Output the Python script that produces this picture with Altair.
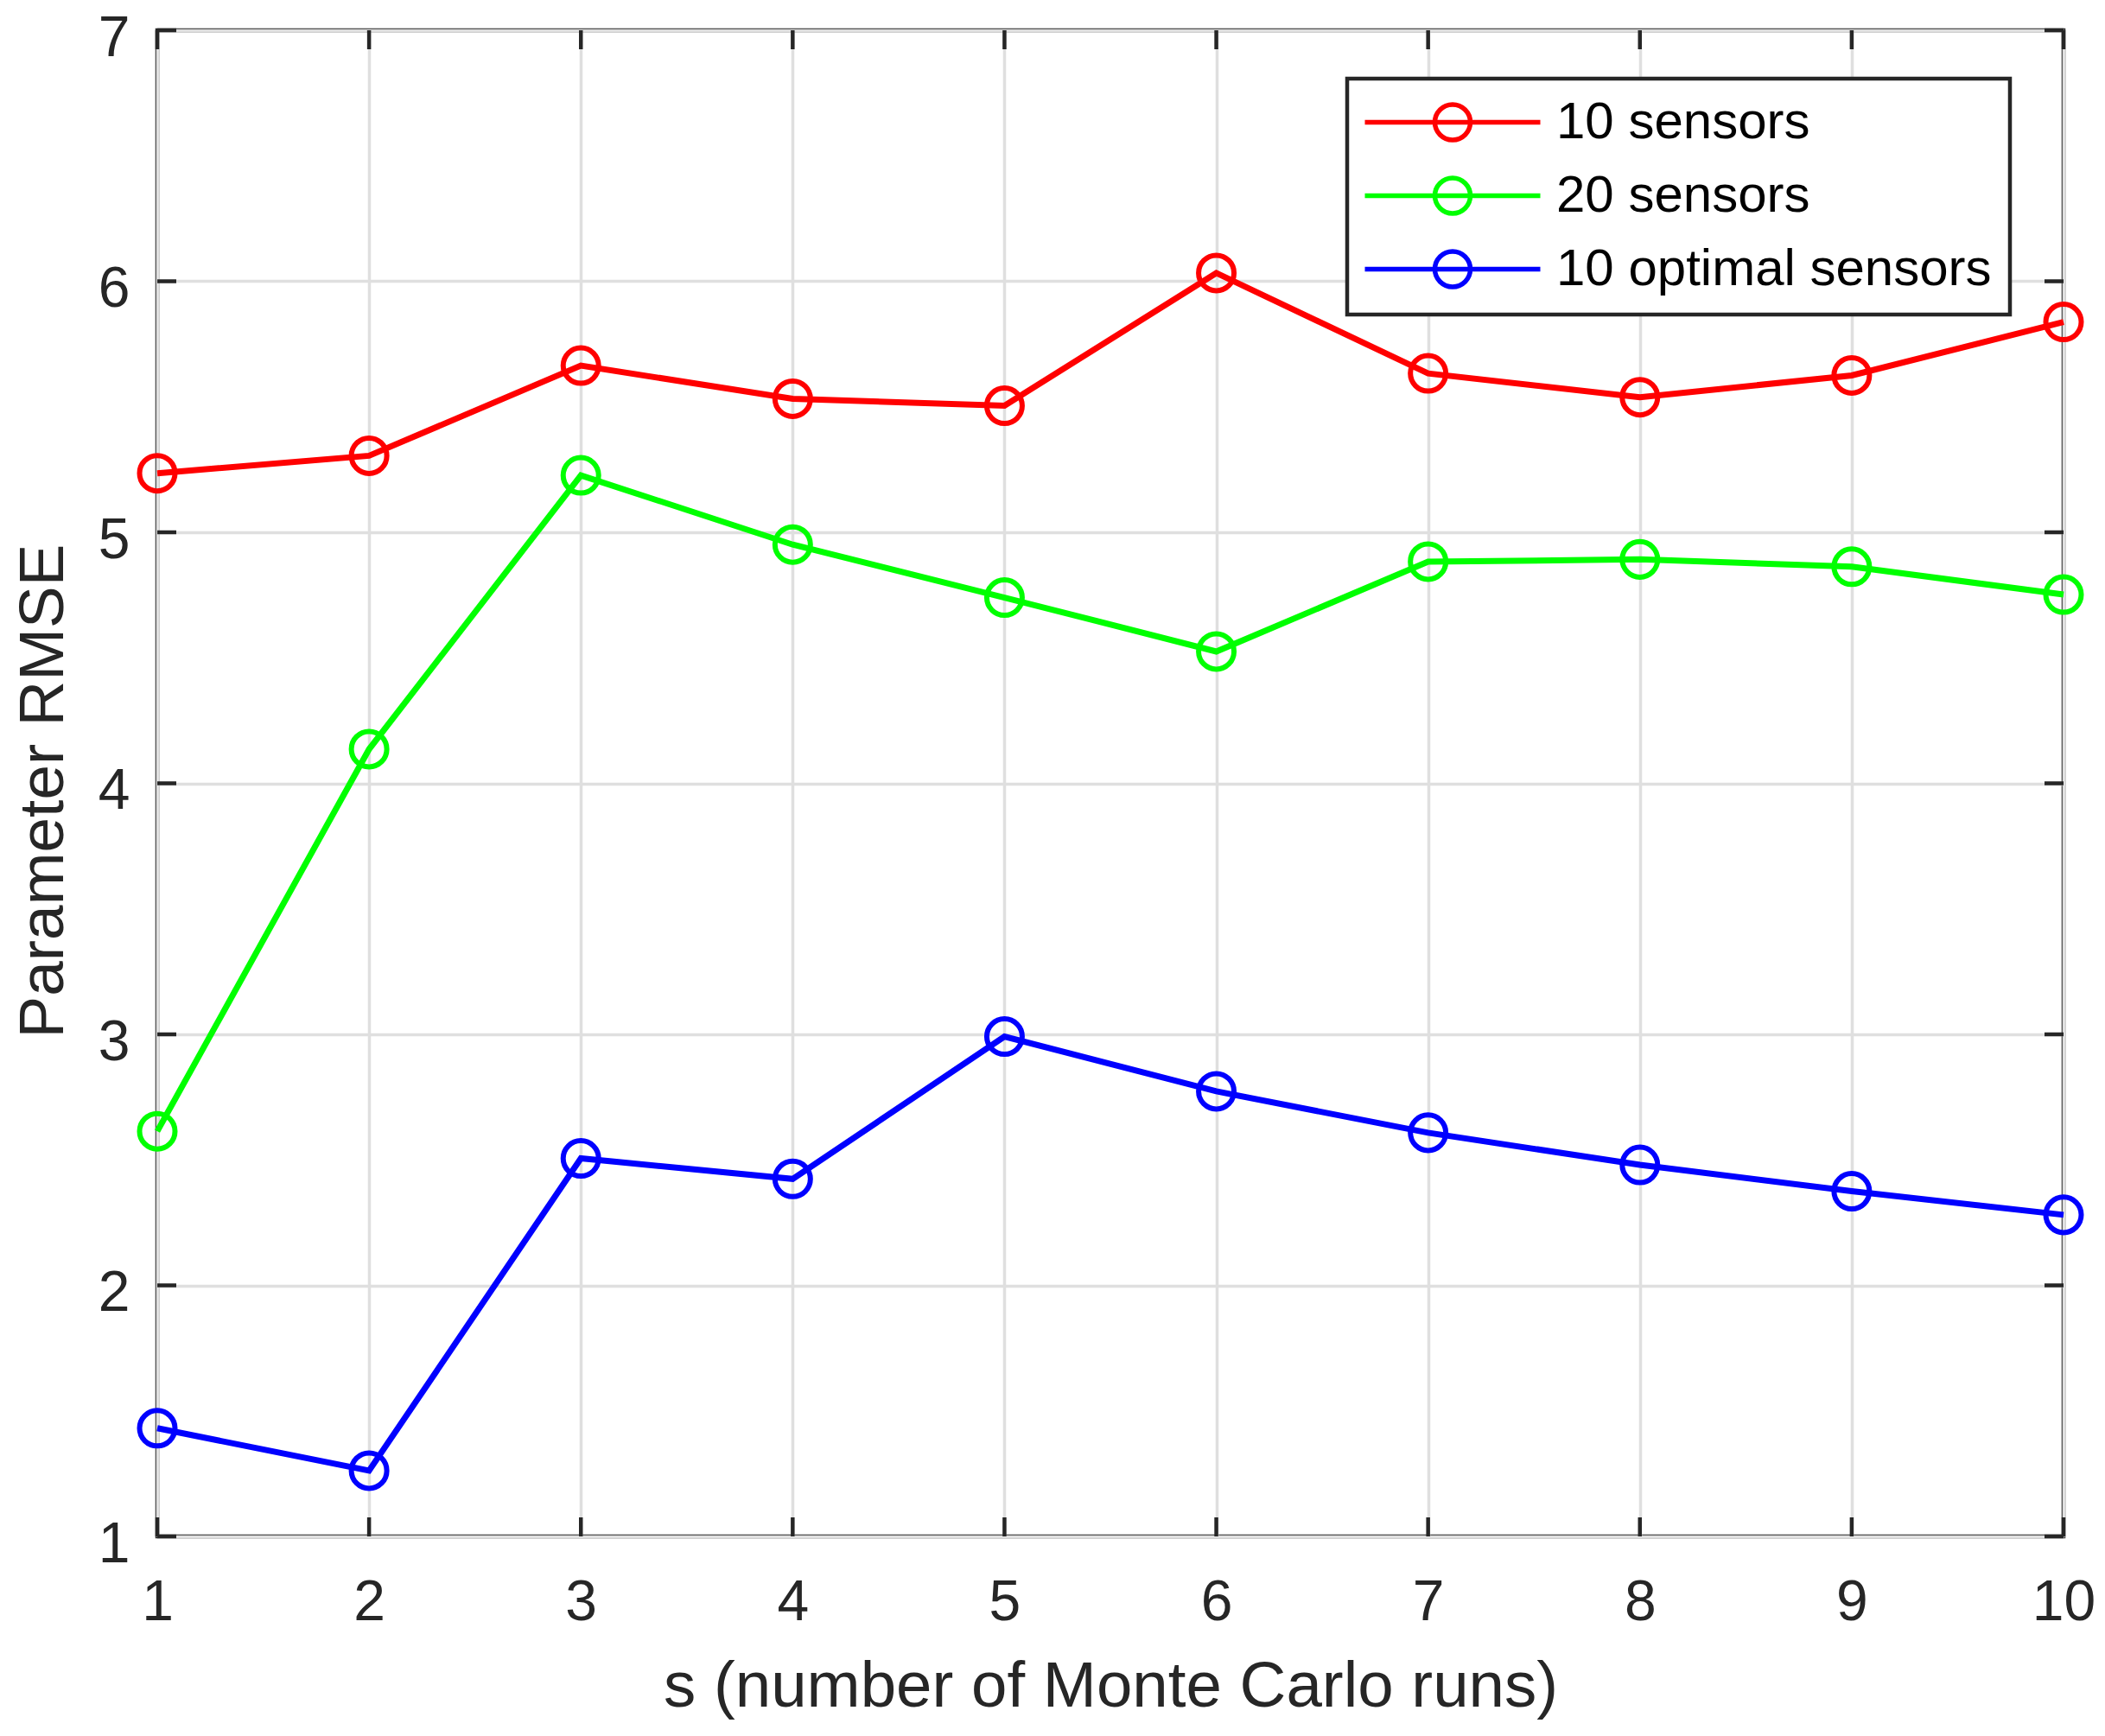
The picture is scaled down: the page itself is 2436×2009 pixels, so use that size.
import altair as alt
import pandas as pd

# ---- data ----
runs = [1, 2, 3, 4, 5, 6, 7, 8, 9, 10]
rmse_10 = [5.235, 5.305, 5.664, 5.532, 5.504, 6.033, 5.633, 5.538, 5.625, 5.838]
rmse_20 = [2.614, 4.136, 5.227, 4.951, 4.740, 4.525, 4.883, 4.892, 4.863, 4.752]
rmse_opt = [1.431, 1.262, 2.506, 2.424, 2.991, 2.773, 2.608, 2.480, 2.375, 2.281]
series_names = ["10 sensors", "20 sensors", "10 optimal sensors"]
series_colors = ["#ff0000", "#00ff00", "#0000ff"]
x_ticks = [1, 2, 3, 4, 5, 6, 7, 8, 9, 10]
y_ticks = [1, 2, 3, 4, 5, 6, 7]

rows = []
for name, vals in zip(series_names, [rmse_10, rmse_20, rmse_opt]):
    for s, v in zip(runs, vals):
        rows.append({"s": s, "rmse": v, "series": name, "order": series_names.index(name)})
df = pd.DataFrame(rows)
xt = pd.DataFrame({"s": x_ticks})
yt = pd.DataFrame({"rmse": y_ticks})

W, H = 2206, 1743
FONT = "Liberation Sans"
TXT = "#262626"
TICK = 22
LINE_W = 7
MARK_W = 6
AX_W = 4.5

# legend symbol: a horizontal line through an open circle (unit = 25 px)
LEGEND_SYMBOL = "M-4.06,0L4.06,0M0.82,0A0.82,0.82,0,1,1,-0.82,0A0.82,0.82,0,1,1,0.82,0"

xscale = alt.Scale(domain=[1, 10], nice=False, zero=False)
yscale = alt.Scale(domain=[1, 7], nice=False, zero=False)
color = alt.Color(
    "series:N",
    scale=alt.Scale(domain=series_names, range=series_colors),
    sort=series_names,
    legend=alt.Legend(
        title=None,
        orient="none",
        legendX=1377,
        legendY=56,
        symbolType=LEGEND_SYMBOL,
        symbolSize=2500,
        symbolStrokeWidth=5.5,
        symbolOffset=71.5,
        symbolFillColor="transparent",
        labelFont=FONT,
        labelFontSize=60,
        labelColor="#000000",
        labelLimit=2000,
        labelOffset=90,
        padding=20.5,
        rowPadding=21,
        fillColor="#ffffff",
        strokeColor=TXT,
    ),
)

base = alt.Chart(df)

lines = base.mark_line(strokeWidth=LINE_W).encode(
    x=alt.X(
        "s:Q",
        scale=xscale,
        axis=alt.Axis(
            values=x_ticks,
            title="s (number of Monte Carlo runs)",
            titleFont=FONT,
            titleFontSize=74.5,
            titleFontWeight="normal",
            titleColor=TXT,
            titleBaseline="alphabetic",
            titleY=196,
            titleX=W / 2,
            labelFont=FONT,
            labelFontSize=66,
            labelColor=TXT,
            labelBaseline="middle",
            labelPadding=76,
            labelFlush=False,
            labelOverlap=False,
            ticks=False,
            tickSize=0,
            domain=False,
            grid=True,
            gridColor="#dfdfdf",
            gridWidth=3.5,
            format="d",
        ),
    ),
    y=alt.Y(
        "rmse:Q",
        scale=yscale,
        axis=alt.Axis(
            values=y_ticks,
            title="Parameter RMSE",
            titleFont=FONT,
            titleFontSize=73,
            titleFontWeight="normal",
            titleColor=TXT,
            titleAngle=270,
            titleBaseline="alphabetic",
            titleX=-110,
            titleY=880,
            labelFont=FONT,
            labelFontSize=66,
            labelColor=TXT,
            labelBaseline="middle",
            labelOffset=9,
            labelPadding=32,
            labelFlush=False,
            labelOverlap=False,
            ticks=False,
            tickSize=0,
            domain=False,
            grid=True,
            gridColor="#dfdfdf",
            gridWidth=3.5,
            format="d",
        ),
    ),
    color=color,
    order="order:Q",
    detail="series:N",
)

points = base.mark_point(filled=False, size=1681, strokeWidth=MARK_W, opacity=1).encode(
    x=alt.X("s:Q", scale=xscale),
    y=alt.Y("rmse:Q", scale=yscale),
    color=alt.Color("series:N", scale=alt.Scale(domain=series_names, range=series_colors), legend=None),
)

tick_style = dict(color=TXT, strokeWidth=AX_W)
xt_bottom = alt.Chart(xt).mark_rule(**tick_style).encode(
    x=alt.X("s:Q", scale=xscale), y=alt.value(H), y2=alt.value(H - TICK))
xt_top = alt.Chart(xt).mark_rule(**tick_style).encode(
    x=alt.X("s:Q", scale=xscale), y=alt.value(0), y2=alt.value(TICK))
yt_left = alt.Chart(yt).mark_rule(**tick_style).encode(
    y=alt.Y("rmse:Q", scale=yscale), x=alt.value(0), x2=alt.value(TICK))
yt_right = alt.Chart(yt).mark_rule(**tick_style).encode(
    y=alt.Y("rmse:Q", scale=yscale), x=alt.value(W), x2=alt.value(W - TICK))

chart = (
    alt.layer(lines, points, xt_bottom, xt_top, yt_left, yt_right)
    .properties(
        width=W,
        height=H,
        autosize=alt.AutoSizeParams(type="none"),
        padding={"left": 174, "top": 27, "right": 40, "bottom": 223},
        background="#ffffff",
    )
    .configure_view(stroke=TXT, strokeWidth=AX_W)
    .configure_legend(strokeWidth=AX_W)
)

chart.save("out.html", embed_options={"renderer": "svg", "actions": False})
